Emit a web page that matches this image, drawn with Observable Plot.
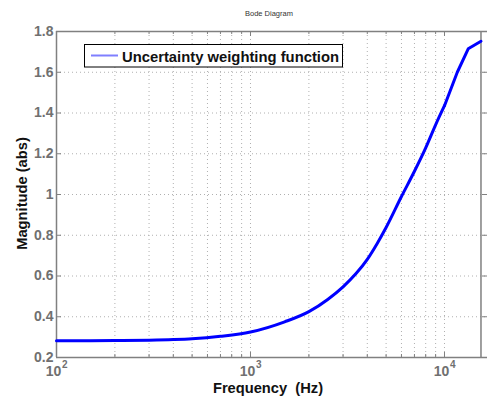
<!DOCTYPE html>
<html><head><meta charset="utf-8">
<script src="https://cdn.jsdelivr.net/npm/d3@7"></script>
<script src="https://cdn.jsdelivr.net/npm/@observablehq/plot@0.6"></script>
<style>body{margin:0;background:#fff} svg{display:block}</style>
</head><body><div id="chart"></div>
<script>
// Data (frequency in Hz, magnitude abs)
const freqs = [100,150,200,300,400,500,700,1000,1500,2000,2500,3000,3500,4000,4500,5000,6000,7000,8000,9000,10000,11640,13250,15420];
const mags  = [0.282,0.282,0.283,0.285,0.288,0.292,0.304,0.325,0.375,0.425,0.485,0.547,0.612,0.682,0.76,0.838,0.99,1.114,1.229,1.342,1.436,1.6,1.715,1.752];
const majorX = [100,1000,10000];
const majorExp = ["2","3","4"];
const minorX = [200,300,400,500,600,700,800,900,2000,3000,4000,5000,6000,7000,8000,9000];
const yTicks = [0.2,0.4,0.6,0.8,1,1.2,1.4,1.6,1.8];
const titleText = "Bode Diagram";
const xLabel = "Frequency  (Hz)";
const yLabel = "Magnitude (abs)";
const seriesName = "Uncertainty weighting function";

const data = freqs.map((f,i)=>({f, m:mags[i]}));
const splitF = 10000;
const xLabels = majorX.map((v,i)=>({v, e:majorExp[i]}));

const W=487, H=398, mt=31, mb=41, ml=56, mr=0;
const ph = H-mt-mb, pw = W-ml-mr;
const xMax = 16660;
const axisCol="#808080", textCol="#707070", gridCol="#b0b0b0";
const font = "'Liberation Sans', Arial, Helvetica, sans-serif";

const chart = Plot.plot({
  width:W, height:H, marginTop:mt, marginBottom:mb, marginLeft:ml, marginRight:mr,
  style:{fontFamily:font, background:"#fff", overflow:"visible"},
  x:{type:"log", domain:[100,xMax], axis:null},
  y:{domain:[0.2,1.8]},
  marks:[
    Plot.ruleX(majorX.concat(minorX), {stroke:gridCol, strokeDasharray:"1,3"}),
    Plot.ruleY(yTicks, {stroke:gridCol, strokeDasharray:"1,3"}),
    Plot.ruleX(majorX, {stroke:axisCol, insetTop: ph-5}),
    Plot.ruleX(majorX, {stroke:axisCol, insetBottom: ph-5}),
    Plot.ruleX(minorX, {stroke:axisCol, insetTop: ph-3}),
    Plot.ruleX(minorX, {stroke:axisCol, insetBottom: ph-3}),
    Plot.ruleY(yTicks, {stroke:axisCol, insetRight: pw-5}),
    Plot.ruleY(yTicks, {stroke:axisCol, insetLeft: pw-5}),
    Plot.ruleY([0.2,1.8], {stroke:axisCol, strokeWidth:1.5}),
    Plot.ruleX([100], {stroke:axisCol, strokeWidth:1.5}),
    Plot.ruleX([freqs[freqs.length-1]], {stroke:axisCol, strokeWidth:1.5}),
    Plot.line(data.filter(d => d.f <= splitF), {x:"f", y:"m", stroke:"#0000ff", strokeWidth:3, curve:"monotone-x"}),
    Plot.line(data.filter(d => d.f >= splitF), {x:"f", y:"m", stroke:"#0000ff", strokeWidth:3}),
    Plot.axisY(yTicks, {tickSize:0, tickPadding:3, fontSize:14, fontWeight:"bold", color:textCol,
      tickFormat: d => String(+d.toFixed(1)), label:null}),
    Plot.text(xLabels, {x:"v", text:()=>"10", frameAnchor:"bottom", dy:18, dx:-3, fontSize:14, fontWeight:"bold", fill:textCol}),
    Plot.text(xLabels, {x:"v", text:"e", frameAnchor:"bottom", dy:10, dx:5.5, textAnchor:"start", fontSize:10, fontWeight:"bold", fill:textCol})
  ]
});
document.getElementById("chart").appendChild(chart);

const svg = d3.select(chart);
svg.append("text").attr("x", 269).attr("y", 16).attr("text-anchor","middle")
  .attr("font-size", 7.5).attr("fill","#333").attr("font-family", font).text(titleText);
svg.append("text").attr("x", 268).attr("y", 393).attr("text-anchor","middle")
  .attr("font-size", 14.7).attr("font-weight","bold").attr("fill","#111").attr("font-family", font).text(xLabel);
svg.append("text").attr("transform","translate(26.5,193.5) rotate(-90)").attr("text-anchor","middle")
  .attr("font-size", 14.7).attr("font-weight","bold").attr("fill","#111").attr("font-family", font).text(yLabel);
const lg = svg.append("g");
lg.append("rect").attr("x",84.5).attr("y",44.5).attr("width",258).attr("height",22.5)
  .attr("fill","#fff").attr("stroke","#000").attr("stroke-width",1);
lg.append("line").attr("x1",91).attr("x2",118).attr("y1",55.5).attr("y2",55.5)
  .attr("stroke","#7f7fff").attr("stroke-width",2);
lg.append("text").attr("x",122).attr("y",61.7).attr("text-anchor","start").attr("font-size",14.8).attr("font-weight","bold")
  .attr("fill","#111").attr("font-family", font).text(seriesName);
</script></body></html>
